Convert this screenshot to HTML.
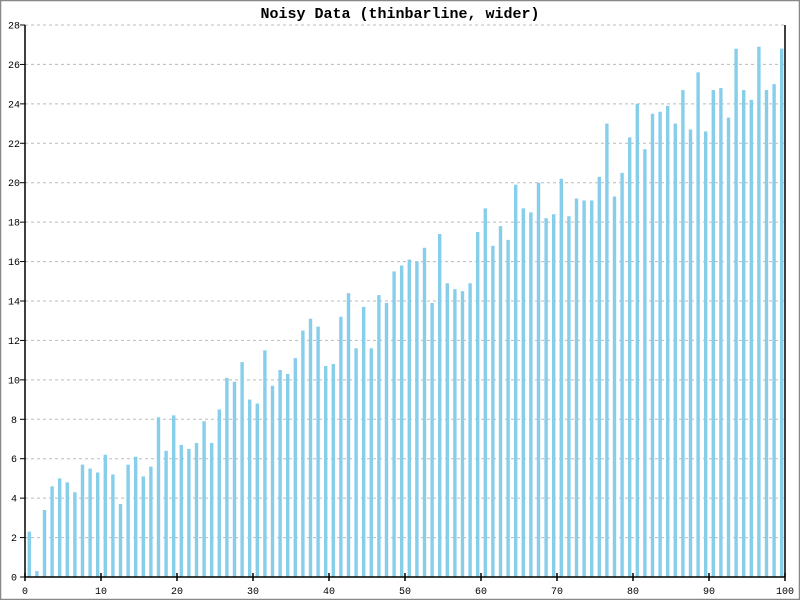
<!DOCTYPE html>
<html><head><meta charset="utf-8"><style>
html,body{margin:0;padding:0;background:#fff}
svg{display:block}
text{font-family:"Liberation Mono","DejaVu Sans Mono",monospace}
</style></head><body>
<svg id="s" width="800" height="600" xmlns="http://www.w3.org/2000/svg">
<rect x="0.5" y="0.5" width="799" height="599" fill="#fff" stroke="#888" stroke-width="1.5"/>
<text x="400" y="18" font-size="15" font-weight="bold" text-anchor="middle">Noisy Data (thinbarline, wider)</text>
<g id="g"></g>
</svg>
<script>
var v=[2.3,0.3,3.4,4.6,5.0,4.8,4.3,5.7,5.5,5.3,6.2,5.2,3.7,5.7,6.1,5.1,5.6,8.1,6.4,8.2,6.7,6.5,6.8,7.9,6.8,8.5,10.1,9.9,10.9,9.0,8.8,11.5,9.7,10.5,10.3,11.1,12.5,13.1,12.7,10.7,10.8,13.2,14.4,11.6,13.7,11.6,14.3,13.9,15.5,15.8,16.1,16.0,16.7,13.9,17.4,14.9,14.6,14.5,14.9,17.5,18.7,16.8,17.8,17.1,19.9,18.7,18.5,20.0,18.2,18.4,20.2,18.3,19.2,19.1,19.1,20.3,23.0,19.3,20.5,22.3,24.0,21.7,23.5,23.6,23.9,23.0,24.7,22.7,25.6,22.6,24.7,24.8,23.3,26.8,24.7,24.2,26.9,24.7,25.0,26.8];
var h='',X0=25,X1=785,Y0=577,k=552/28,sx=7.6;
for(var i=1;i<=14;i++){var y=Y0-2*i*k;h+='<line x1="25" x2="785" y1="'+y+'" y2="'+y+'" stroke="#bbb" stroke-dasharray="3,3"/>';}
for(var i=0;i<100;i++){var t=Y0-v[i]*k;h+='<rect x="'+(X0+sx*i+2.6)+'" y="'+t+'" width="3.4" height="'+(Y0-t)+'" fill="#87ceeb"/>';}
h+='<line x1="25" x2="25" y1="25" y2="577" stroke="#000" stroke-width="1.5"/>';
h+='<line x1="785" x2="785" y1="25" y2="577" stroke="#000" stroke-width="1.5"/>';
h+='<line x1="25" x2="785" y1="577" y2="577" stroke="#000" stroke-width="1.5"/>';
for(var i=0;i<=14;i++){var y=Y0-2*i*k;h+='<line x1="20" x2="25" y1="'+y+'" y2="'+y+'" stroke="#000"/><text x="14" y="'+(y+3.5)+'" font-size="10" text-anchor="middle">'+(2*i)+'</text>';}
for(var i=0;i<=10;i++){var x=X0+76*i;h+='<line x1="'+x+'" x2="'+x+'" y1="573" y2="581" stroke="#000" stroke-width="1.5"/><text x="'+x+'" y="594" font-size="10" text-anchor="middle">'+(10*i)+'</text>';}
document.getElementById('g').innerHTML=h;
</script>
</body></html>
